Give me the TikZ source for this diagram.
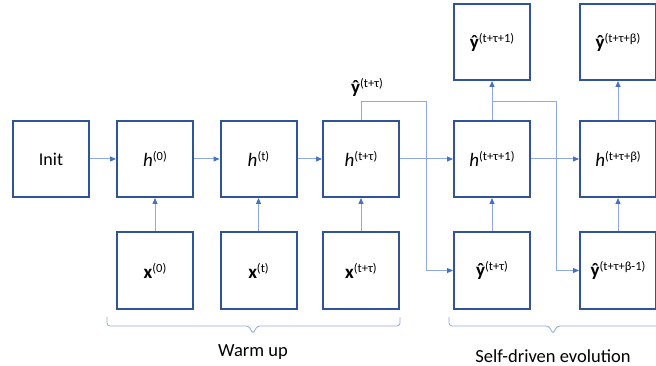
\documentclass[tikz,border=0pt]{standalone}
\usepackage{fontspec}
\setmainfont{Carlito}
\usetikzlibrary{arrows.meta}
\definecolor{boxblue}{RGB}{47,85,151}
\definecolor{lineblue}{RGB}{143,170,220}
\definecolor{tipblue}{RGB}{68,114,196}
\newcommand\hsup[1]{\raisebox{6pt}{\fontsize{12.5}{13}\selectfont #1}}
\newcommand\hv{{\fontsize{19}{21}\selectfont\itshape h}}
\newcommand\yv{{\fontsize{19}{21}\selectfont\bfseries ŷ}}
\newcommand\xv{{\fontsize{19}{21}\selectfont\bfseries x}}
\begin{document}
\begin{tikzpicture}[x=1pt,y=-1pt,
  box/.style={draw=boxblue, line width=2pt, fill=white, minimum width=76pt, minimum height=76pt, inner sep=0pt},
  conn/.style={draw=lineblue, line width=1pt, -{Triangle[length=6pt,width=5pt,fill=tipblue,color=tipblue]}},
  plain/.style={draw=lineblue, line width=1pt},
  brc/.style={draw=lineblue, line width=0.8pt, rounded corners=3pt},
  lbl/.style={font=\fontsize{18.5}{20}\selectfont, inner sep=0pt}]
\useasboundingbox (0,0) rectangle (656,366);

% middle row
\node[box] (init) at (51,159) {\fontsize{18}{20}\selectfont Init};
\node[box] (h0) at (155,159) {\hv\hsup{(0)}};
\node[box] (ht) at (258.5,159) {\hv\hsup{(t)}};
\node[box] (htau) at (361,159) {\hv\hsup{(t+τ)}};
\node[box] (htau1) at (492,159) {\hv\hsup{(t+τ+1)}};
\node[box] (htaub) at (618,159) {\hv\hsup{(t+τ+β)}};

% top row
\node[box] (yt1) at (492,42) {\yv\hsup{(t+τ+1)}};
\node[box] (ytb) at (618,42) {\yv\hsup{(t+τ+β)}};

% bottom row
\node[box] (x0) at (155,270.5) {\xv\hsup{(0)}};
\node[box] (xt) at (258.5,270.5) {\xv\hsup{(t)}};
\node[box] (xtau) at (361,270.5) {\xv\hsup{(t+τ)}};
\node[box] (ytau) at (492,270.5) {\yv\hsup{(t+τ)}};
\node[box] (yb1) at (618,270.5) {\yv\hsup{(t+τ+β-1)}};

% label above h(t+tau)
\node[inner sep=0pt] (ylab) at (367,87) {\yv\hsup{(t+τ)}};

% horizontal connectors
\draw[conn] (init) -- (h0);
\draw[conn] (h0) -- (ht);
\draw[conn] (ht) -- (htau);
\draw[conn] (htau) -- (htau1);
\draw[conn] (htau1) -- (htaub);

% vertical connectors
\draw[conn] (x0) -- (h0);
\draw[conn] (xt) -- (ht);
\draw[conn] (xtau) -- (htau);
\draw[conn] (ytau) -- (htau1);
\draw[conn] (yb1) -- (htaub);
\draw[conn] (htau1) -- (yt1);
\draw[conn] (htaub) -- (ytb);

% feedback connectors
\coordinate (j1) at (426,102);
\draw[conn] (htau.north) |- (j1) |- (ytau.west);
\coordinate (j2) at (492,102);
\coordinate (j3) at (556,102);
\draw[conn] (j2) -- (j3) |- (yb1.west);

% braces
\draw[brc] (107,317) -- (107,326) -- (249,326) -- (253,334) -- (257,326) -- (400,326) -- (400,317);
\draw[brc] (449,317) -- (449,326) -- (549,326) -- (553,334) -- (557,326) -- (662,326) -- (662,317);

\node[lbl] (warm) at (253,352) {Warm up};
\node[lbl] (self) at (553,356) {Self-driven evolution};
\end{tikzpicture}
\end{document}
